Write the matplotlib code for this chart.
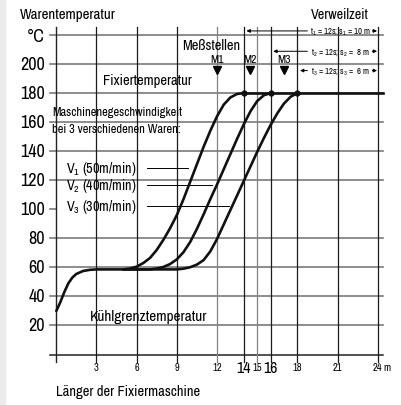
import matplotlib.pyplot as plt
from matplotlib import font_manager
from matplotlib.patches import Rectangle

# pick a narrow sans font if one is installed (the original uses a condensed grotesque)
fonts = font_manager.fontManager.ttflist
fam, stretch = 'Liberation Sans', 'normal'
cands = [f for f in fonts if f.name == 'Liberation Sans Narrow' and f.style == 'normal']
if not cands:
    cands = [f for f in fonts if ('Condensed' in f.name or 'Narrow' in f.name) and f.style == 'normal'
             and f.weight in (400, 'normal', 'regular')]
if not cands:
    for s in ['condensed', 'semi-condensed', 'extra-condensed']:
        cands = [f for f in fonts if f.stretch == s and f.style == 'normal'
                 and f.weight in (400, 'normal', 'regular')
                 and f.name in ('DejaVu Sans', 'Noto Sans', 'Open Sans', 'Roboto', 'Liberation Sans')]
        if cands:
            break
if cands:
    fam, stretch = cands[0].name, cands[0].stretch

plt.rcParams['font.family'] = [fam, 'DejaVu Sans']
plt.rcParams['font.stretch'] = stretch
plt.rcParams['mathtext.fontset'] = 'custom'
plt.rcParams['mathtext.rm'] = f'{fam}:stretch={stretch}'
plt.rcParams['mathtext.it'] = f'{fam}:stretch={stretch}'

# warm-up part shared by all three goods (length in m, temperature in °C)
start_x = [0, 0.3, 0.6, 0.9, 1.2, 1.5, 2.0, 2.5, 3.0, 4.0, 5.0]
start_y = [30, 36, 43, 49, 53, 55.5, 57.5, 58.3, 58.6, 58.6, 58.6]

# heating curves for the three machine speeds
v1_x = [5.0, 5.5, 6.0, 6.5, 7.0, 7.5, 8.0, 8.5, 9.0, 9.5, 10.0, 10.5, 11.0, 11.5, 12.0, 12.5, 13.0, 13.5, 14.0]
v1_y = [58.6, 59.2, 60.5, 63, 66.5, 72, 79, 87, 96, 107, 119, 131, 143, 154, 164, 172, 177, 179.4, 180]
v2_x = [5.0, 7.0, 7.5, 8.0, 8.5, 9.0, 9.5, 10.0, 10.5, 11.0, 11.5, 12.0, 12.5, 13.0, 13.5, 14.0, 14.5, 15.0, 15.5, 16.0]
v2_y = [58.6, 58.6, 59.2, 60.3, 62.3, 65.5, 70.5, 77.5, 86.5, 96.5, 107, 117, 127.5, 138, 148.5, 158.5, 167.5, 174.5, 178.5, 180]
v3_x = [5.0, 9.0, 9.5, 10.0, 10.5, 11.0, 11.5, 12.0, 12.5, 13.0, 13.5, 14.0, 14.5, 15.0, 15.5, 16.0, 16.5, 17.0, 17.5, 18.0]
v3_y = [58.6, 58.6, 59.1, 60.1, 61.9, 65, 71, 79.5, 89.5, 99.5, 109.5, 119.5, 129.5, 139.5, 149, 158, 166, 172.8, 177.5, 180]
fix_x = [14, 24.4]
fix_y = [180, 180]
end_x = [14, 16, 18]
end_y = [180, 180, 180]

y_ticks = [200, 180, 160, 140, 120, 100, 80, 60, 40, 20]
h_grid = [20, 40, 60, 80, 120, 140, 160, 180, 200, 220]
v_grid_dark = [3, 6, 9, 14, 16, 18, 21, 24]
v_grid_light = [12, 15]
x_small = [3, 6, 9, 12, 15, 18, 21, 24]
x_big = [14, 16]

meas_x = [12, 14.5, 17]
meas_names = ['M1', 'M2', 'M3']

dwell_tip = [14.2, 16.2, 18.2]
dwell_y = [222.8, 208.8, 195.5]
dwell_text = ['t$_1$ = 12s; s$_1$ = 10 m', 't$_2$ = 12s; s$_2$ =  8 m', 't$_3$ = 12s; s$_3$ =  6 m']

speed_text = ['V$_1$ (50m/min)', 'V$_2$ (40m/min)', 'V$_3$ (30m/min)']
speed_y = [128.4, 116.4, 102.2]
speed_line_end = [9.85, 11.6, 12.9]

W, H = 401, 406
fig = plt.figure(figsize=(W / 100, H / 100), dpi=100)
fig.patches.append(Rectangle((0, 0), 5 / W, 1, transform=fig.transFigure, color='#ebebeb', zorder=0))
ax = fig.add_axes([56.3 / W, (H - 355.5) / H, 321.4 / W, 319.5 / H])
ax.set_xlim(0, 24)
ax.set_ylim(0, 220)
ax.axis('off')

# grid
for y in h_grid:
    ax.plot([-0.5, 24.4], [y, y], color='#7a7a7a', lw=1.2, clip_on=False, zorder=1)
ax.plot([-0.5, 24.4], [0, 0], color='#222222', lw=1.1, clip_on=False, zorder=1)
ax.plot([-0.5, 0], [100, 100], color='#7a7a7a', lw=1.2, clip_on=False, zorder=1)
ax.plot([0, 0], [-5, 225.5], color='#222222', lw=1.0, clip_on=False, zorder=1)
for x in v_grid_dark:
    ax.plot([x, x], [-5, 225.5], color='#1a1a1a', lw=0.9, clip_on=False, zorder=1)
for x in v_grid_light:
    ax.plot([x, x], [-5, 225.5], color='#808080', lw=0.9, clip_on=False, zorder=1)

# curves
ax.plot(start_x, start_y, color='#111111', lw=1.9, clip_on=False, zorder=3, solid_capstyle='round')
for xs, ys in [(v1_x, v1_y), (v2_x, v2_y), (v3_x, v3_y)]:
    ax.plot(xs, ys, color='#111111', lw=1.9, clip_on=False, zorder=3, solid_capstyle='round')
ax.plot(fix_x, fix_y, color='#111111', lw=1.9, clip_on=False, zorder=3)
ax.plot(end_x, end_y, 'o', color='#111111', ms=3.5, clip_on=False, zorder=4)

# y tick labels
for y in y_ticks:
    ax.text(-0.84, y, str(y), ha='right', va='center', fontsize=13, clip_on=False)
ax.text(-0.84, 219.6, '°C', ha='right', va='center', fontsize=13)
ax.text(-2.7, 234.8, 'Warentemperatur', ha='left', va='center', fontsize=10.8)

# x tick labels
for x in x_small:
    ax.text(x, -8.8, str(x), ha='center', va='center', fontsize=7.5)
for x in x_big:
    ax.text(x, -8.8, str(x), ha='center', va='center', fontsize=11.5)
ax.text(24.45, -8.8, 'm', ha='left', va='center', fontsize=7.5)
ax.text(0, -25.2, 'Länger der Fixiermaschine', ha='left', va='center', fontsize=10.5)
ax.annotate('', xy=(24.55, -24.7), xytext=(10.95, -24.7),
            arrowprops=dict(arrowstyle='-|>', lw=0.8, color='k', mutation_scale=6, shrinkA=0, shrinkB=0))

# labels in the plot
ax.text(3.5, 188.8, 'Fixiertemperatur', ha='left', va='center', fontsize=10.5)
ax.text(-0.3, 167.4, 'Maschinenegeschwindigkeit', ha='left', va='center', fontsize=9.0)
ax.text(-0.3, 155.3, 'bei 3 verschiedenen Waren:', ha='left', va='center', fontsize=9.0)
ax.text(2.5, 26.8, 'Kühlgrenztemperatur', ha='left', va='center', fontsize=11)
for txt, y, xe in zip(speed_text, speed_y, speed_line_end):
    ax.text(0.72, y, txt, ha='left', va='center', fontsize=10.2)
    ax.plot([6.75, xe], [y, y], color='k', lw=0.7)

# measuring points
ax.text(9.4, 212.8, 'Meßstellen', ha='left', va='center', fontsize=10.3)
for x, name in zip(meas_x, meas_names):
    ax.text(x, 203.3, name, ha='center', va='center', fontsize=8.5)
    ax.plot([x], [195.8], 'v', color='k', ms=6, zorder=4)

# dwell time arrows
ax.text(21.2, 234.8, 'Verweilzeit', ha='center', va='center', fontsize=10.2)
for tip, y, txt in zip(dwell_tip, dwell_y, dwell_text):
    ax.text(21.2, y, txt, ha='center', va='center', fontsize=6.3)
    ax.annotate('', xy=(tip, y), xytext=(18.75, y),
                arrowprops=dict(arrowstyle='-|>', lw=0.7, color='k', mutation_scale=5, shrinkA=0, shrinkB=0),
                annotation_clip=False)
    ax.annotate('', xy=(23.95, y), xytext=(23.6, y),
                arrowprops=dict(arrowstyle='-|>', lw=0.7, color='k', mutation_scale=5, shrinkA=0, shrinkB=0),
                annotation_clip=False)

fig.savefig('out.png', dpi=100)
